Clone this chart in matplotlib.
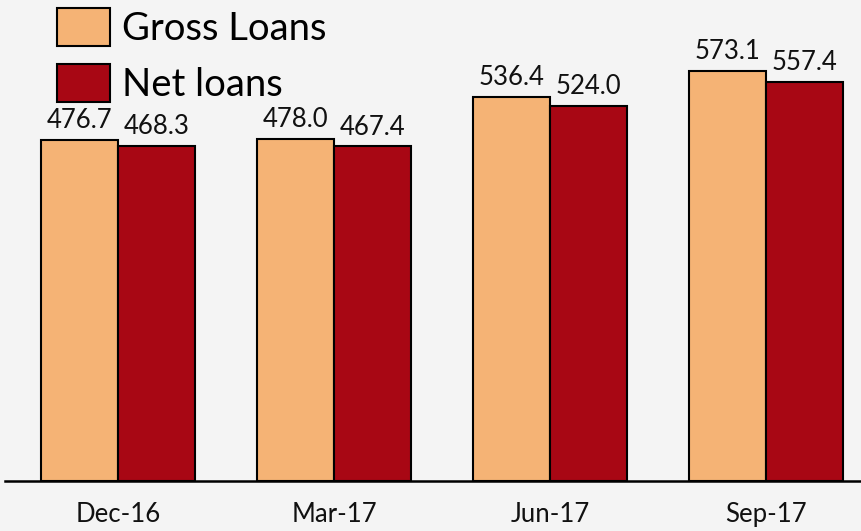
import matplotlib.pyplot as plt
import numpy as np

# data
quarters = ["Dec-16", "Mar-17", "Jun-17", "Sep-17"]
gross_loans = [476.7, 478.0, 536.4, 573.1]
net_loans = [468.3, 467.4, 524.0, 557.4]

plt.rcParams['font.family'] = ['Lato', 'DejaVu Sans']

fig = plt.figure(figsize=(8.62, 5.31), dpi=100)
fig.patch.set_facecolor('#f4f4f4')
ax = fig.add_axes([5/862, 50/531, 857/862, 481/531])
ax.set_facecolor('none')

x = np.arange(len(quarters))
w = 0.358
b1 = ax.bar(x - w/2, gross_loans, w, color='#f5b375', edgecolor='black', linewidth=1.5, label='Gross Loans')
b2 = ax.bar(x + w/2, net_loans, w, color='#a80714', edgecolor='black', linewidth=1.5, label='Net loans')
ax.bar_label(b1, fmt='%.1f', padding=5, fontsize=18.5, color='#111111')
ax.bar_label(b2, fmt='%.1f', padding=5, fontsize=18.5, color='#111111')

ax.set_xlim(-0.523, 3.444)
ax.set_ylim(0, 672)
ax.set_xticks(x)
ax.set_xticklabels(quarters, fontsize=18.5, color='#111111')
ax.tick_params(axis='x', length=0, pad=15)
ax.set_yticks([])
for s in ['left', 'right', 'top']:
    ax.spines[s].set_visible(False)
ax.spines['bottom'].set_linewidth(1.8)

leg = ax.legend(loc='upper left', bbox_to_anchor=(51/862, 1 - 2/531), bbox_transform=fig.transFigure,
                fontsize=27.5, frameon=False, handlelength=1.4, handleheight=1.15,
                labelspacing=0.45, handletextpad=0.3, borderaxespad=0.0, borderpad=0.15)
for p in leg.get_patches():
    p.set_linewidth(1.5)

fig.savefig('out.png', dpi=100, facecolor=fig.get_facecolor())
